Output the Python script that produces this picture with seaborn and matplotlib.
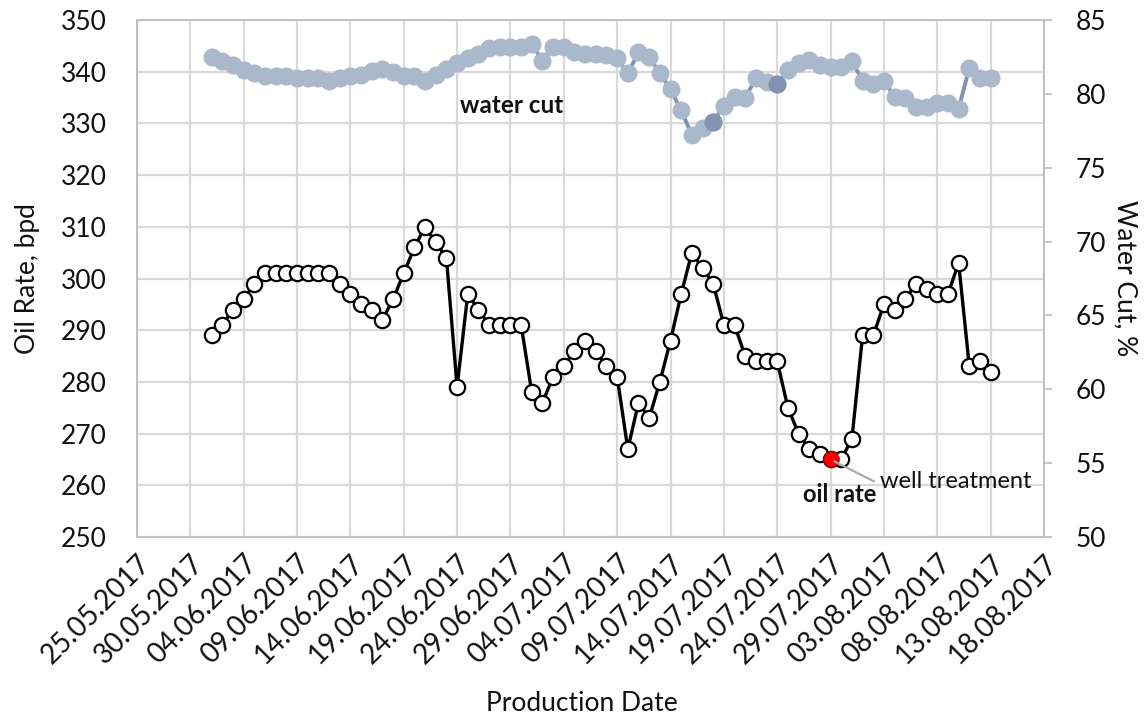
import matplotlib
matplotlib.use("Agg")
import matplotlib.pyplot as plt
import matplotlib.dates as mdates
import numpy as np
import pandas as pd
import seaborn as sns

# ---- data ----
start_date = "2017-06-01"
oil_rate = [289, 291, 294, 296, 299, 301, 301, 301, 301, 301, 301, 301, 299, 297, 295,
            294, 292, 296, 301, 306, 310, 307, 304, 279, 297, 294, 291, 291, 291, 291,
            278, 276, 281, 283, 286, 288, 286, 283, 281, 267, 276, 273, 280, 288, 297,
            305, 302, 299, 291, 291, 285, 284, 284, 284, 275, 270, 267, 266, 265, 265,
            269, 289, 289, 295, 294, 296, 299, 298, 297, 297, 303, 283, 284, 282]
water_cut = [82.5, 82.2, 81.95, 81.6, 81.4, 81.2, 81.2, 81.2, 81.1, 81.05, 81.05, 80.9,
             81.05, 81.2, 81.3, 81.55, 81.7, 81.45, 81.2, 81.2, 80.9, 81.3, 81.7, 82.1,
             82.4, 82.7, 83.1, 83.2, 83.2, 83.2, 83.4, 82.2, 83.2, 83.15, 82.85, 82.7,
             82.7, 82.6, 82.4, 81.4, 82.8, 82.5, 81.4, 80.3, 78.9, 77.2, 77.7, 78.1,
             79.2, 79.8, 79.7, 81.1, 80.8, 80.7, 81.6, 82.1, 82.3, 81.95, 81.8, 81.8,
             82.2, 80.9, 80.7, 80.9, 79.8, 79.7, 79.1, 79.1, 79.4, 79.4, 79.0, 81.75,
             81.1, 81.1]
highlight_wc_idx = [47, 53]
treatment_idx = 58
x_start, x_end = "2017-05-25", "2017-08-18"
oil_ticks = [250, 260, 270, 280, 290, 300, 310, 320, 330, 340, 350]
wc_ticks = [50, 55, 60, 65, 70, 75, 80, 85]

dates = pd.date_range(start_date, periods=len(oil_rate), freq="D")
df = pd.DataFrame({"date": dates, "oil": oil_rate, "wc": water_cut})

# ---- style ----
sns.set_theme(style="white")
plt.rcParams["font.family"] = ["Lato", "DejaVu Sans"]
TXT = "#111111"
GRID = "#D9D9D9"
SPINE = "#BFBFBF"
WC_LIGHT = "#AAB8CC"
WC_DARK = "#8194B1"

fig = plt.figure(figsize=(11.46, 7.22), dpi=100)
ax = fig.add_axes([0.1195, 0.2562, 0.7915, 0.7161])
ax2 = ax.twinx()

# oil rate
sns.lineplot(data=df, x="date", y="oil", ax=ax, color="black", lw=2.4,
             marker="o", markersize=11, markerfacecolor="white",
             markeredgecolor="black", markeredgewidth=1.6, zorder=3)
ax.plot(df["date"].iloc[treatment_idx], df["oil"].iloc[treatment_idx], "o",
        markersize=11, markerfacecolor="#FF0000", markeredgecolor="#C00000",
        markeredgewidth=1.0, zorder=4)

# water cut
sns.lineplot(data=df, x="date", y="wc", ax=ax2, color=WC_DARK, lw=2.8,
             marker="o", markersize=13, markerfacecolor=WC_LIGHT,
             markeredgecolor=WC_LIGHT, markeredgewidth=0, zorder=3)
hl = df.iloc[highlight_wc_idx]
ax2.plot(hl["date"], hl["wc"], "o", markersize=13, markerfacecolor=WC_DARK,
         markeredgewidth=0, zorder=4)

# axes limits / ticks
ax.set_xlim(pd.Timestamp(x_start), pd.Timestamp(x_end))
ax.set_ylim(oil_ticks[0], oil_ticks[-1])
ax.set_yticks(oil_ticks)
ax2.set_ylim(wc_ticks[0], wc_ticks[-1])
ax2.set_yticks(wc_ticks)
ax.set_xticks(pd.date_range(x_start, x_end, freq="5D"))
ax.xaxis.set_major_formatter(mdates.DateFormatter("%d.%m.%Y"))

ax.grid(True, color=GRID, lw=1.6)
ax2.grid(False)
ax.set_axisbelow(True)

for a in (ax, ax2):
    for s in a.spines.values():
        s.set_color(SPINE)
        s.set_linewidth(1.3)
ax.spines["top"].set_color(GRID)

ax.tick_params(axis="y", length=0, labelsize=19, labelcolor=TXT, pad=22)
ax.tick_params(axis="x", length=6, color=SPINE, width=1.3, labelsize=20,
               labelcolor=TXT, pad=3)
ax2.tick_params(axis="y", length=6, color=SPINE, width=1.3, labelsize=19,
                labelcolor=TXT, pad=17, direction="out")
for lab in ax.get_xticklabels():
    lab.set_rotation(45)
    lab.set_ha("right")
    lab.set_rotation_mode("anchor")

ax.set_xlabel("Production Date", fontsize=19, color=TXT, va="center")
ax.xaxis.set_label_coords(0.49, -0.322)
ax.set_ylabel("Oil Rate, bpd", fontsize=19, color=TXT, va="center")
ax.yaxis.set_label_coords(-0.121, 0.5)
ax2.set_ylabel("Water Cut, %", fontsize=19, color=TXT, rotation=270, va="center")
ax2.yaxis.set_label_coords(1.089, 0.5)

# annotations
ax.text(0.4135, 0.834, "water cut", transform=ax.transAxes, ha="center",
        va="center", fontsize=17.5, fontweight="bold", color=TXT)
ax.text(0.775, 0.083, "oil rate", transform=ax.transAxes, ha="center",
        va="center", fontsize=17, fontweight="bold", color=TXT)
ax.annotate("well treatment",
            xy=(df["date"].iloc[treatment_idx], df["oil"].iloc[treatment_idx]),
            xytext=(0.819, 0.108), textcoords="axes fraction",
            ha="left", va="center", fontsize=17, color=TXT, zorder=5,
            arrowprops=dict(arrowstyle="-", color="#A6A6A6", lw=1.5,
                            relpos=(0, 0.35), shrinkA=2, shrinkB=3))

fig.savefig("out.png", dpi=100)
